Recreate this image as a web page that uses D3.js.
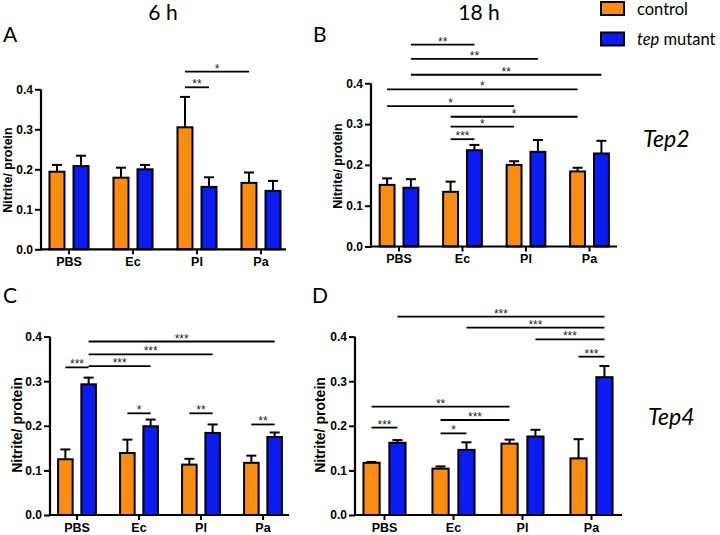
<!DOCTYPE html>
<html>
<head>
<meta charset="utf-8">
<script src="https://cdn.jsdelivr.net/npm/d3@7"></script>
<style>
  html, body { margin: 0; padding: 0; background: #fff; }
  svg { display: block; }
</style>
</head>
<body>
<svg id="chart" width="720" height="535"></svg>
<script>
// ---------- DATA ----------
const groups = ["PBS", "Ec", "Pl", "Pa"];
const seriesNames = ["control", "tep mutant"];
const yTicks = [0, 0.1, 0.2, 0.3, 0.4];

// Panel A: Tep2, 6 h
const tep2_6h_control = [0.194, 0.179, 0.305, 0.166];
const tep2_6h_controlErr = [0.017, 0.025, 0.076, 0.026];
const tep2_6h_mutant = [0.208, 0.200, 0.156, 0.146];
const tep2_6h_mutantErr = [0.026, 0.011, 0.024, 0.025];

// Panel B: Tep2, 18 h
const tep2_18h_control = [0.151, 0.134, 0.200, 0.184];
const tep2_18h_controlErr = [0.016, 0.025, 0.009, 0.009];
const tep2_18h_mutant = [0.144, 0.236, 0.232, 0.228];
const tep2_18h_mutantErr = [0.021, 0.013, 0.029, 0.031];

// Panel C: Tep4, 6 h
const tep4_6h_control = [0.125, 0.139, 0.113, 0.117];
const tep4_6h_controlErr = [0.022, 0.030, 0.013, 0.016];
const tep4_6h_mutant = [0.293, 0.199, 0.184, 0.175];
const tep4_6h_mutantErr = [0.015, 0.015, 0.019, 0.010];

// Panel D: Tep4, 18 h
const tep4_18h_control = [0.117, 0.104, 0.160, 0.127];
const tep4_18h_controlErr = [0.002, 0.005, 0.009, 0.043];
const tep4_18h_mutant = [0.162, 0.146, 0.176, 0.309];
const tep4_18h_mutantErr = [0.006, 0.017, 0.015, 0.025];

// significance brackets: [group, series] -> [group, series], height (data units), label
const sigA = [
  { from: [2, 0], to: [2, 1], level: 0.405, label: "**" },
  { from: [2, 0], to: [3, 0], level: 0.444, label: "*" }
];
const sigB = [
  { from: [0, 1], to: [1, 1], level: 0.495, label: "**" },
  { from: [0, 1], to: [2, 1], level: 0.460, label: "**" },
  { from: [0, 1], to: [3, 1], level: 0.421, label: "**" },
  { from: [0, 0], to: [3, 0], level: 0.385, label: "*" },
  { from: [0, 0], to: [2, 0], level: 0.344, label: "*" },
  { from: [1, 0], to: [3, 0], level: 0.318, label: "*" },
  { from: [1, 0], to: [2, 0], level: 0.294, label: "*" },
  { from: [1, 0], to: [1, 1], level: 0.263, label: "***" }
];
const sigC = [
  { from: [0, 1], to: [3, 1], level: 0.389, label: "***" },
  { from: [0, 1], to: [2, 1], level: 0.360, label: "***" },
  { from: [0, 1], to: [1, 1], level: 0.334, label: "***" },
  { from: [0, 0], to: [0, 1], level: 0.331, label: "***" },
  { from: [1, 0], to: [1, 1], level: 0.228, label: "*" },
  { from: [2, 0], to: [2, 1], level: 0.228, label: "**" },
  { from: [3, 0], to: [3, 1], level: 0.203, label: "**" }
];
const sigD = [
  { from: [0, 1], to: [3, 1], level: 0.445, label: "***" },
  { from: [1, 1], to: [3, 1], level: 0.420, label: "***" },
  { from: [2, 1], to: [3, 1], level: 0.394, label: "***" },
  { from: [3, 0], to: [3, 1], level: 0.355, label: "***" },
  { from: [0, 0], to: [2, 0], level: 0.243, label: "**" },
  { from: [1, 0], to: [2, 0], level: 0.213, label: "***" },
  { from: [1, 0], to: [1, 1], level: 0.183, label: "*" },
  { from: [0, 0], to: [0, 1], level: 0.196, label: "***" }
];

// ---------- STYLE / LAYOUT ----------
const colors = ["#FB8C12", "#0A1BF3"];
const boldFont = "'Liberation Sans', Arial, sans-serif";
const titleFont = "Lato, 'Open Sans', sans-serif";

const panels = [
  { ctrl: tep2_6h_control, ctrlErr: tep2_6h_controlErr, mut: tep2_6h_mutant, mutErr: tep2_6h_mutantErr, sig: sigA,
    left: 41, right: 286, y0: 249.3, yTop: 89.3, c0: 69, step: 64, ylab: [8, 170], ylabSize: 12.5 },
  { ctrl: tep2_18h_control, ctrlErr: tep2_18h_controlErr, mut: tep2_18h_mutant, mutErr: tep2_18h_mutantErr, sig: sigB,
    left: 371, right: 617, y0: 246.5, yTop: 83.3, c0: 399, step: 63.5, ylab: [338, 166], ylabSize: 12.5 },
  { ctrl: tep4_6h_control, ctrlErr: tep4_6h_controlErr, mut: tep4_6h_mutant, mutErr: tep4_6h_mutantErr, sig: sigC,
    left: 50, right: 289, y0: 515, yTop: 336.6, c0: 77, step: 62, ylab: [17, 425], ylabSize: 14 },
  { ctrl: tep4_18h_control, ctrlErr: tep4_18h_controlErr, mut: tep4_18h_mutant, mutErr: tep4_18h_mutantErr, sig: sigD,
    left: 355, right: 622, y0: 515, yTop: 336.6, c0: 384.5, step: 69, ylab: [320, 425], ylabSize: 14 }
];

const svg = d3.select("#chart");

panels.forEach(p => {
  const g = svg.append("g");
  const x0 = d3.scaleBand().domain(groups)
    .range([p.c0 - p.step / 2, p.c0 + p.step * (groups.length - 0.5)])
    .paddingInner(0.39).paddingOuter(0.195);
  const x1 = d3.scaleBand().domain(seriesNames).range([0, x0.bandwidth()]).paddingInner(0.375);
  const y = d3.scaleLinear().domain([0, 0.4]).range([p.y0, p.yTop]);

  const rows = [];
  groups.forEach((gr, i) => {
    rows.push({ group: gr, s: seriesNames[0], si: 0, v: p.ctrl[i], e: p.ctrlErr[i] });
    rows.push({ group: gr, s: seriesNames[1], si: 1, v: p.mut[i], e: p.mutErr[i] });
  });
  const cx = d => x0(d.group) + x1(d.s) + x1.bandwidth() / 2;

  // error bars (drawn first so bar outline sits on top)
  const eb = g.append("g").attr("stroke", "#000").attr("stroke-width", 2);
  eb.selectAll("line.v").data(rows).join("line").attr("class", "v")
    .attr("x1", cx).attr("x2", cx)
    .attr("y1", d => y(d.v)).attr("y2", d => y(d.v + d.e));
  eb.selectAll("line.c").data(rows).join("line").attr("class", "c")
    .attr("x1", d => cx(d) - 5).attr("x2", d => cx(d) + 5)
    .attr("y1", d => y(d.v + d.e)).attr("y2", d => y(d.v + d.e));

  // bars
  g.append("g").selectAll("rect").data(rows).join("rect")
    .attr("x", d => x0(d.group) + x1(d.s))
    .attr("width", x1.bandwidth())
    .attr("y", d => y(d.v))
    .attr("height", d => p.y0 - y(d.v))
    .attr("fill", d => colors[d.si])
    .attr("stroke", "#000").attr("stroke-width", 2);

  // y axis
  const ya = g.append("g").attr("transform", `translate(${p.left},0)`)
    .call(d3.axisLeft(y).tickValues(yTicks).tickFormat(d3.format(".1f"))
      .tickSize(6).tickSizeOuter(0).tickPadding(2));
  ya.select(".domain").attr("stroke-width", 2.2).attr("d", `M0,${p.y0 + 1}V${p.yTop}`);
  ya.selectAll(".tick line").attr("stroke-width", 2);
  ya.selectAll("text").attr("font-family", boldFont).attr("font-weight", "bold")
    .attr("font-size", 12).attr("fill", "#000");

  // x axis
  const xa = g.append("g").attr("transform", `translate(0,${p.y0})`)
    .call(d3.axisBottom(x0).tickSize(5).tickSizeOuter(0).tickPadding(3));
  xa.select(".domain").attr("stroke-width", 2.2).attr("d", `M${p.left - 1},0H${p.right}`);
  xa.selectAll(".tick line").attr("stroke-width", 2);
  xa.selectAll("text").attr("font-family", boldFont).attr("font-weight", "bold")
    .attr("font-size", 12.5).attr("fill", "#000");

  // y label
  g.append("text")
    .attr("transform", `translate(${p.ylab[0]},${p.ylab[1]}) rotate(-90)`)
    .attr("text-anchor", "middle").attr("dominant-baseline", "central")
    .attr("font-family", boldFont).attr("font-weight", "bold")
    .attr("font-size", p.ylabSize).text("Nitrite/ protein");

  // significance brackets
  const pos = ([gi, si]) => x0(groups[gi]) + x1(seriesNames[si]) + x1.bandwidth() / 2;
  const sg = g.append("g");
  p.sig.forEach(s => {
    const xa1 = pos(s.from), xa2 = pos(s.to), yy = y(s.level);
    sg.append("line").attr("x1", xa1).attr("x2", xa2).attr("y1", yy).attr("y2", yy)
      .attr("stroke", "#000").attr("stroke-width", 1.8);
    sg.append("text").attr("x", (xa1 + xa2) / 2).attr("y", yy + 1)
      .attr("text-anchor", "middle").attr("font-family", boldFont)
      .attr("font-size", 12).attr("fill", "#222").text(s.label);
  });
});

// ---------- TITLES / LABELS ----------
const txt = (x, y, s, size, opts = {}) => svg.append("text").attr("x", x).attr("y", y)
  .attr("font-family", titleFont).attr("font-size", size)
  .attr("text-anchor", opts.anchor || "start")
  .attr("font-style", opts.italic ? "italic" : "normal").attr("fill", "#000").text(s);

txt(163, 20, "6 h", 21, { anchor: "middle" });
txt(479, 20, "18 h", 21, { anchor: "middle" });
txt(3, 42, "A", 21);
txt(313, 42, "B", 21);
txt(3, 303, "C", 21);
txt(312, 303, "D", 21);
txt(643, 147, "Tep2", 23, { italic: true });
txt(648, 425, "Tep4", 23, { italic: true });

// legend
const leg = svg.append("g");
seriesNames.forEach((s, i) => {
  leg.append("rect").attr("x", 601).attr("y", 2 + i * 30.5).attr("width", 23).attr("height", 13)
    .attr("fill", colors[i]).attr("stroke", "#000").attr("stroke-width", 2);
});
leg.append("text").attr("x", 637).attr("y", 15).attr("font-family", titleFont)
  .attr("font-size", 16.5).text("control");
const t2 = leg.append("text").attr("x", 637).attr("y", 45).attr("font-family", titleFont)
  .attr("font-size", 16.5);
t2.append("tspan").attr("font-style", "italic").text("tep");
t2.append("tspan").text(" mutant");
</script>
</body>
</html>
